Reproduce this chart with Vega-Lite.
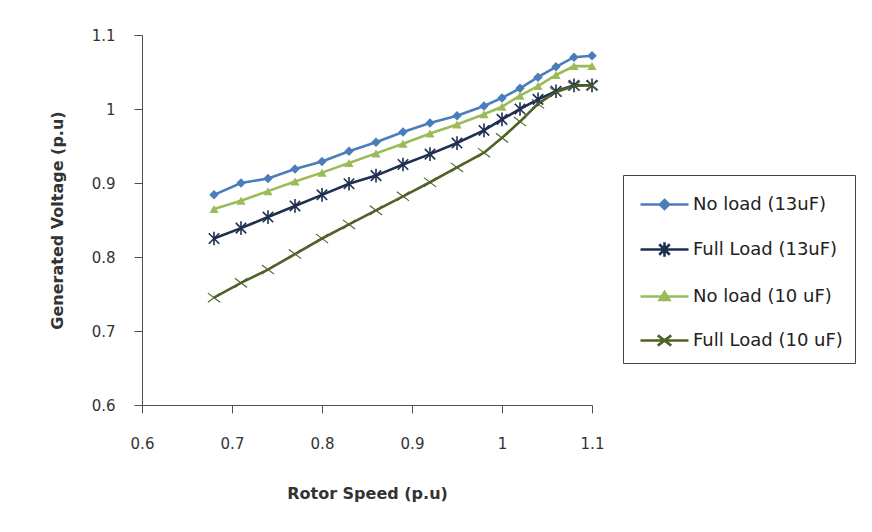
{
  "$schema": "https://vega.github.io/schema/vega-lite/v6.json",
  "width": 450,
  "height": 370,
  "autosize": {"type": "none"},
  "padding": {"left": 142, "top": 35, "right": 280, "bottom": 127},
  "background": "white",
  "config": {
    "view": {"stroke": null},
    "font": "DejaVu Sans",
    "axis": {
      "grid": false,
      "domainColor": "#505050",
      "tickColor": "#505050",
      "labelColor": "#333333",
      "labelFont": "DejaVu Sans",
      "labelFontSize": 15,
      "labelFlush": false,
      "titleFont": "DejaVu Sans",
      "titleFontSize": 16,
      "titleFontWeight": "bold",
      "titleColor": "#333333",
      "tickSize": 8
    }
  },
  "data": {
    "values": [
      {"speed": 0.68, "series": "No load (13uF)", "voltage": 0.884},
      {"speed": 0.71, "series": "No load (13uF)", "voltage": 0.900},
      {"speed": 0.74, "series": "No load (13uF)", "voltage": 0.906},
      {"speed": 0.77, "series": "No load (13uF)", "voltage": 0.919},
      {"speed": 0.80, "series": "No load (13uF)", "voltage": 0.929},
      {"speed": 0.83, "series": "No load (13uF)", "voltage": 0.943},
      {"speed": 0.86, "series": "No load (13uF)", "voltage": 0.955},
      {"speed": 0.89, "series": "No load (13uF)", "voltage": 0.969},
      {"speed": 0.92, "series": "No load (13uF)", "voltage": 0.981},
      {"speed": 0.95, "series": "No load (13uF)", "voltage": 0.991},
      {"speed": 0.98, "series": "No load (13uF)", "voltage": 1.004},
      {"speed": 1.00, "series": "No load (13uF)", "voltage": 1.015},
      {"speed": 1.02, "series": "No load (13uF)", "voltage": 1.028},
      {"speed": 1.04, "series": "No load (13uF)", "voltage": 1.043},
      {"speed": 1.06, "series": "No load (13uF)", "voltage": 1.057},
      {"speed": 1.08, "series": "No load (13uF)", "voltage": 1.070},
      {"speed": 1.10, "series": "No load (13uF)", "voltage": 1.072},
      {"speed": 0.68, "series": "Full Load (13uF)", "voltage": 0.825},
      {"speed": 0.71, "series": "Full Load (13uF)", "voltage": 0.839},
      {"speed": 0.74, "series": "Full Load (13uF)", "voltage": 0.854},
      {"speed": 0.77, "series": "Full Load (13uF)", "voltage": 0.869},
      {"speed": 0.80, "series": "Full Load (13uF)", "voltage": 0.884},
      {"speed": 0.83, "series": "Full Load (13uF)", "voltage": 0.899},
      {"speed": 0.86, "series": "Full Load (13uF)", "voltage": 0.910},
      {"speed": 0.89, "series": "Full Load (13uF)", "voltage": 0.925},
      {"speed": 0.92, "series": "Full Load (13uF)", "voltage": 0.939},
      {"speed": 0.95, "series": "Full Load (13uF)", "voltage": 0.954},
      {"speed": 0.98, "series": "Full Load (13uF)", "voltage": 0.971},
      {"speed": 1.00, "series": "Full Load (13uF)", "voltage": 0.986},
      {"speed": 1.02, "series": "Full Load (13uF)", "voltage": 1.000},
      {"speed": 1.04, "series": "Full Load (13uF)", "voltage": 1.013},
      {"speed": 1.06, "series": "Full Load (13uF)", "voltage": 1.024},
      {"speed": 1.08, "series": "Full Load (13uF)", "voltage": 1.032},
      {"speed": 1.10, "series": "Full Load (13uF)", "voltage": 1.032},
      {"speed": 0.68, "series": "No load (10 uF)", "voltage": 0.865},
      {"speed": 0.71, "series": "No load (10 uF)", "voltage": 0.876},
      {"speed": 0.74, "series": "No load (10 uF)", "voltage": 0.889},
      {"speed": 0.77, "series": "No load (10 uF)", "voltage": 0.902},
      {"speed": 0.80, "series": "No load (10 uF)", "voltage": 0.914},
      {"speed": 0.83, "series": "No load (10 uF)", "voltage": 0.927},
      {"speed": 0.86, "series": "No load (10 uF)", "voltage": 0.940},
      {"speed": 0.89, "series": "No load (10 uF)", "voltage": 0.953},
      {"speed": 0.92, "series": "No load (10 uF)", "voltage": 0.967},
      {"speed": 0.95, "series": "No load (10 uF)", "voltage": 0.979},
      {"speed": 0.98, "series": "No load (10 uF)", "voltage": 0.993},
      {"speed": 1.00, "series": "No load (10 uF)", "voltage": 1.003},
      {"speed": 1.02, "series": "No load (10 uF)", "voltage": 1.018},
      {"speed": 1.04, "series": "No load (10 uF)", "voltage": 1.031},
      {"speed": 1.06, "series": "No load (10 uF)", "voltage": 1.046},
      {"speed": 1.08, "series": "No load (10 uF)", "voltage": 1.058},
      {"speed": 1.10, "series": "No load (10 uF)", "voltage": 1.058},
      {"speed": 0.68, "series": "Full Load (10 uF)", "voltage": 0.745},
      {"speed": 0.71, "series": "Full Load (10 uF)", "voltage": 0.765},
      {"speed": 0.74, "series": "Full Load (10 uF)", "voltage": 0.783},
      {"speed": 0.77, "series": "Full Load (10 uF)", "voltage": 0.804},
      {"speed": 0.80, "series": "Full Load (10 uF)", "voltage": 0.825},
      {"speed": 0.83, "series": "Full Load (10 uF)", "voltage": 0.844},
      {"speed": 0.86, "series": "Full Load (10 uF)", "voltage": 0.863},
      {"speed": 0.89, "series": "Full Load (10 uF)", "voltage": 0.882},
      {"speed": 0.92, "series": "Full Load (10 uF)", "voltage": 0.901},
      {"speed": 0.95, "series": "Full Load (10 uF)", "voltage": 0.921},
      {"speed": 0.98, "series": "Full Load (10 uF)", "voltage": 0.941},
      {"speed": 1.00, "series": "Full Load (10 uF)", "voltage": 0.961},
      {"speed": 1.02, "series": "Full Load (10 uF)", "voltage": 0.983},
      {"speed": 1.04, "series": "Full Load (10 uF)", "voltage": 1.007},
      {"speed": 1.06, "series": "Full Load (10 uF)", "voltage": 1.023},
      {"speed": 1.08, "series": "Full Load (10 uF)", "voltage": 1.031},
      {"speed": 1.10, "series": "Full Load (10 uF)", "voltage": 1.032}
    ]
  },
  "encoding": {
    "x": {
      "field": "speed",
      "type": "quantitative",
      "scale": {"domain": [0.6, 1.1], "nice": false, "zero": false},
      "axis": {
        "title": "Rotor Speed (p.u)",
        "values": [0.6, 0.7, 0.8, 0.9, 1.0, 1.1],
        "format": ".1~f",
        "labelPadding": 23,
        "titleX": 225,
        "titleY": 88,
        "titleBaseline": "middle",
        "titleAlign": "center"
      }
    },
    "y": {
      "field": "voltage",
      "type": "quantitative",
      "scale": {"domain": [0.6, 1.1], "nice": false, "zero": false},
      "axis": {
        "title": "Generated Voltage (p.u)",
        "values": [0.6, 0.7, 0.8, 0.9, 1.0, 1.1],
        "format": ".1~f",
        "labelPadding": 19,
        "titleX": -85,
        "titleY": 185,
        "titleAngle": -90,
        "titleBaseline": "middle",
        "titleAlign": "center"
      }
    }
  },
  "layer": [
    {
      "mark": {"type": "line", "strokeWidth": 2.6},
      "encoding": {
        "color": {
          "field": "series",
          "type": "nominal",
          "scale": {
            "domain": ["No load (13uF)", "Full Load (13uF)", "No load (10 uF)", "Full Load (10 uF)"],
            "range": ["#4A7EBB", "#1F2F50", "#9BBB59", "#4F6228"]
          },
          "legend": {
            "title": null,
            "orient": "none",
            "legendX": 481,
            "legendY": 140,
            "padding": 12,
            "symbolOffset": 12,
            "labelOffset": 11,
            "rowPadding": 17,
            "strokeColor": "#444444",
            "fillColor": "white",
            "symbolOpacity": 1,
            "symbolSize": 1024,
            "symbolStrokeWidth": 2.6,
            "labelFont": "DejaVu Sans",
            "labelFontSize": 18,
            "labelColor": "#222222",
            "labelLimit": 300,
            "encoding": {
              "symbols": {
                "shape": {"value": {"expr": "datum.value === 'No load (13uF)' ? 'M-1.5,0L1.5,0M0,-0.28L0.28,0L0,0.28L-0.28,0Z' : datum.value === 'Full Load (13uF)' ? 'M-1.5,0L1.5,0M-0.33,-0.33L0.33,0.33M-0.33,0.33L0.33,-0.33M0,-0.45L0,0.45' : datum.value === 'No load (10 uF)' ? 'M-1.5,0L1.5,0M0,-0.28L0.3,0.22L-0.3,0.22Z' : 'M-1.5,0L1.5,0M-0.42,-0.32L0.42,0.32M-0.42,0.32L0.42,-0.32'"}},
                "fill": {"value": {"expr": "scale('color', datum.value)"}},
                "size": {"value": 1024},
                "strokeWidth": {"value": 2.6},
                "opacity": {"value": 1}
              }
            }
          }
        }
      }
    },
    {
      "transform": [{"filter": "datum.series === 'No load (13uF)'"}],
      "mark": {"type": "point", "shape": "diamond", "filled": true, "size": 90, "color": "#4A7EBB", "opacity": 1}
    },
    {
      "transform": [{"filter": "datum.series === 'No load (10 uF)'"}],
      "mark": {"type": "point", "shape": "triangle-up", "filled": true, "size": 85, "color": "#9BBB59", "opacity": 1}
    },
    {
      "transform": [{"filter": "datum.series === 'Full Load (13uF)'"}],
      "mark": {"type": "point", "shape": "M-0.8,-0.8L0.8,0.8M-0.8,0.8L0.8,-0.8M0,-1.05L0,1.05", "filled": false, "size": 170, "color": "#1F2F50", "strokeWidth": 1.6, "opacity": 1}
    },
    {
      "transform": [{"filter": "datum.series === 'Full Load (10 uF)'"}],
      "mark": {"type": "point", "shape": "M-1,-0.75L1,0.75M-1,0.75L1,-0.75", "filled": false, "size": 150, "color": "#4F6228", "strokeWidth": 1.1, "opacity": 1}
    }
  ]
}
